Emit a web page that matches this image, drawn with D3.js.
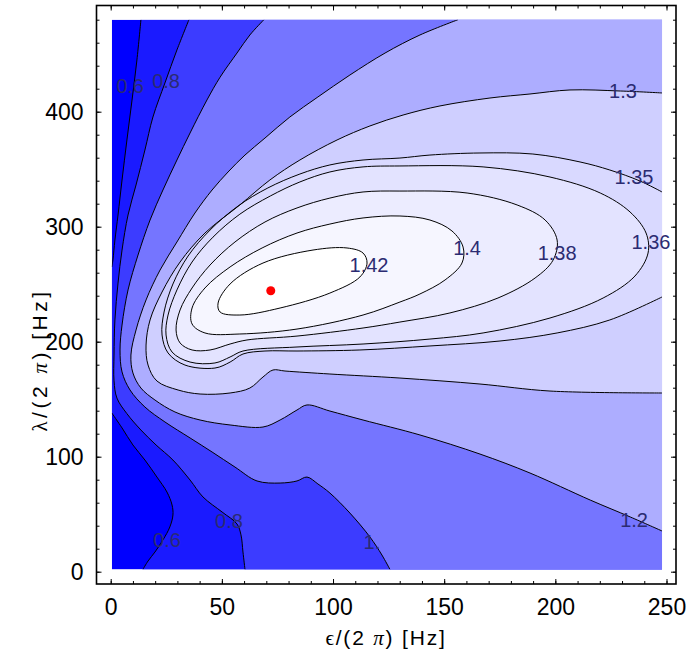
<!DOCTYPE html>
<html>
<head>
<meta charset="utf-8">
<script src="https://cdn.jsdelivr.net/npm/d3@7"></script>
<style>
  body { margin: 0; background: #fff; }
  svg { display: block; }
  text { font-family: "Liberation Sans", Arial, Helvetica, sans-serif; }
</style>
</head>
<body>
<svg id="chart" width="689" height="655"></svg>
<script>
// Contour levels of the objective over (epsilon, lambda), both in Hz (divided by 2 pi)
const levels = [0.6, 0.8, 1.0, 1.2, 1.3, 1.35, 1.36, 1.38, 1.4, 1.42];
// Shading of the band below the first level, then of each band above a level
const bandColors = ["#0000ff", "#1a1aff", "#3c3cff", "#7575ff", "#adadff", "#cfcfff",
                    "#d9d9ff", "#e3e3ff", "#ececff", "#f6f6ff", "#ffffff"];

// Sampled region
const epsRange = [0.5, 248];
const lamRange = [2, 480];

// Contour polylines, [epsilon, lambda]
const c06top = [[13.6,480],[11.8,445.0],[9.6,410.2],[7.3,375.4],[5.1,340.6],[3.3,310.2],[1.9,288.4],[1.0,271.0],[0.5,265.0]];
const c06bottom = [[0.5,138.0],[5.1,125.0],[10.0,110.2],[15.4,97.1],[20.8,82.3],[25.3,69.3],[27.6,58.0],[28.0,49.3],[26.6,38.9],[23.5,27.6],[19.9,17.1],[16.8,9.3],[14.5,2]];
const c08 = [[35.2,480],[29.8,453.7],[24.4,425.0],[19.0,395.4],[15.4,366.7],[11.4,336.3],[7.8,310.2],[5.1,279.7],[3.3,251.0],[1.9,218.9],[1.5,188.4],[1.5,166.0],[2.8,151.0],[7.3,137.4],[13.6,123.2],[20.4,110.2],[28.0,97.1],[35.7,79.7],[41.5,65.0],[50.1,51.9],[56.8,41.5],[58.6,32.0],[59.5,17.1],[60.4,2]];
const c10 = [[68.9,480],[62.6,466.7],[56.8,451.0],[49.2,430.0],[43.3,410.2],[35.7,381.5],[29.8,358.0],[23.5,331.9],[17.7,305.8],[12.3,275.4],[7.8,245.0],[5.1,214.5],[4.2,192.8],[5.1,173.7],[8.7,158.0],[15.4,143.2],[24.4,130.2],[35.7,116.3],[45.6,104.1],[55.9,91.0],[65.8,78.9],[76.2,77.1],[83.8,78.9],[88.3,82.3],[93.2,76.3],[98.6,68.4],[107.6,51.0],[116.6,30.2],[122.0,14.5],[125.6,2]];
const c12 = [[156.2,480],[139.1,466.7],[123.4,451.0],[107.6,431.9],[93.2,412.8],[80.6,395.4],[69.4,377.1],[60.4,362.3],[52.8,347.6],[45.6,331.9],[37.9,311.9],[29.8,286.7],[22.2,262.3],[15.9,236.3],[11.4,210.2],[9.1,188.4],[10.0,172.8],[13.6,159.7],[19.9,149.3],[28.9,138.9],[40.2,131.9],[53.7,127.6],[68.5,125.8],[76.2,131.9],[83.8,140.6],[88.3,145.0],[98.6,139.7],[113.5,131.9],[139.1,118.9],[166.1,102.3],[188.6,85.8],[215.7,62.3],[233.7,47.6],[248,35.4]];
const c13 = [[248,416.3],[229.2,418.0],[206.6,418.9],[188.6,415.4],[170.6,411.9],[148.1,405.0],[131.5,397.1],[116.6,387.6],[101.8,375.4],[85.1,358.0],[71.6,340.6],[58.1,318.9],[42.4,294.5],[31.2,269.3],[23.1,243.2],[17.7,218.9],[15.9,197.1],[16.8,179.7],[20.8,165.8],[30.3,158.0],[40.2,154.5],[53.7,155.4],[62.6,159.7],[68.5,169.3],[73.0,175.4],[78.4,174.5],[98.6,171.9],[130.1,168.4],[166.1,163.2],[197.6,157.1],[248,155.4]];
const c135 = [[248,330.2],[238.1,339.7],[224.5,349.3],[211.1,356.3],[189.9,363.2],[166.1,364.1],[143.6,362.3],[130.1,359.7],[113.5,358.0],[98.6,353.7],[85.1,345.8],[70.7,333.7],[57.3,318.0],[44.7,297.1],[34.8,274.5],[28.0,250.2],[24.0,225.8],[23.1,205.8],[25.8,190.2],[33.4,179.7],[46.9,177.1],[53.7,182.3],[59.5,189.3],[69.4,191.9],[83.8,191.9],[112.1,192.8],[143.6,196.3],[175.1,200.6],[200.8,207.6],[224.5,218.9],[248,238.9]];
const c136 = [[130.1,352.8],[167.5,352.0],[197.6,343.2],[220.2,329.3],[233.6,312.8],[240.8,294.5],[241.7,277.1],[235.8,257.1],[221.5,238.0],[197.6,220.6],[167.5,207.6],[143.6,202.3],[113.5,198.0],[83.8,195.4],[59.5,191.9],[53.7,186.7],[46.9,181.5],[35.7,182.3],[27.6,191.0],[24.9,205.8],[25.8,223.2],[29.8,245.0],[36.6,269.3],[46.0,290.9],[58.1,310.9],[71.8,326.7],[85.1,338.9],[98.6,347.6],[113.5,352.0]];
const c138 = [[130.1,331.0],[160.3,329.3],[182.8,318.9],[195.4,305.8],[200.8,288.4],[199.0,271.0],[190.9,255.4],[174.2,238.0],[152.6,225.0],[130.1,217.1],[113.5,211.9],[83.8,204.9],[61.3,201.5],[53.7,198.0],[44.7,192.8],[36.6,192.8],[31.2,198.9],[29.4,210.2],[31.2,227.6],[36.6,246.7],[44.7,266.7],[55.9,286.7],[69.4,304.1],[83.8,316.3],[98.6,324.9],[113.5,330.2]];
const c140 = [[130.1,309.3],[143.6,305.8],[153.5,296.3],[158.5,282.3],[158.0,268.4],[150.4,253.7],[139.1,241.5],[130.1,234.5],[113.5,223.2],[83.8,211.0],[58.1,206.7],[42.4,207.6],[36.6,215.4],[36.6,229.3],[42.4,246.7],[53.7,265.0],[68.1,281.5],[83.8,294.5],[98.6,302.3],[113.5,307.6]];
const c142 = [[48.3,233.6],[53.7,250.2],[68.5,268.4],[91.0,279.7],[106.3,281.5],[113.5,277.1],[115.3,268.4],[112.1,256.3],[98.6,242.3],[76.2,229.3],[58.1,223.2],[49.2,225.8]];

// Contour labels: text and anchor point [epsilon, lambda]
const labelText = ["0.6", "0.8", "1.3", "1.35", "1.36", "1.38", "1.4", "1.42", "1.2", "1.", "0.8", "0.6"];
const labelAt = [[8.7,422.3],[24.9,426.7],[230.4,418.0],[235.4,343.2],[243.0,286.7],[200.8,277.1],[160.3,281.5],[116.2,266.7],[235.4,45.0],[117.5,25.8],[53.2,44.1],[25.3,27.6]];

// Optimum
const optimum = [72.0, 244.3];

// Axis ticks
const epsTicks = [0, 50, 100, 150, 200, 250];
const lamTicks = [0, 100, 200, 300, 400];
const epsMinorStep = 10;
const lamMinorStep = 20;

const svg = d3.select("#chart");
const x = d3.scaleLinear().domain([0, 250]).range([110.7, 666.5]);
const y = d3.scaleLinear().domain([0, 400]).range([571.7, 111.7]);
const frame = { left: 96.5, right: 676, top: 5.5, bottom: 584 };

const px0 = x(epsRange[0]), px1 = x(epsRange[1]);
const py0 = y(lamRange[1]), py1 = y(lamRange[0]);

svg.append("defs").append("clipPath").attr("id", "plotClip")
  .append("rect").attr("x", px0).attr("y", py0)
  .attr("width", px1 - px0).attr("height", py1 - py0);

const plot = svg.append("g").attr("clip-path", "url(#plotClip)");

const open = d3.line().x(d => x(d[0])).y(d => y(d[1])).curve(d3.curveCatmullRom.alpha(0.5));
const closed = d3.line().x(d => x(d[0])).y(d => y(d[1])).curve(d3.curveCatmullRomClosed.alpha(0.5));
const to = d => `L${x(d[0])},${y(d[1])}`;
const cont = pts => open(pts).replace(/^M/, "L");

const BR = [epsRange[1], lamRange[0]];
const TR = [epsRange[1], lamRange[1]];

// Region where the value is at least each level (nested sets)
const superLevel = [
  open(c06top) + cont(c06bottom) + to(BR) + to(TR) + "Z",
  open(c08) + to(BR) + to(TR) + "Z",
  open(c10) + to(BR) + to(TR) + "Z",
  open(c12) + to(TR) + "Z",
  open(c13) + "Z",
  open(c135) + "Z",
  closed(c136),
  closed(c138),
  closed(c140),
  closed(c142)
];

plot.append("rect").attr("x", px0).attr("y", py0)
  .attr("width", px1 - px0).attr("height", py1 - py0)
  .attr("fill", bandColors[0]);

plot.selectAll("path.band").data(superLevel).join("path")
  .attr("class", "band").attr("d", d => d)
  .attr("fill", (d, i) => bandColors[i + 1]);

const lines = [open(c06top), open(c06bottom), open(c08), open(c10), open(c12), open(c13),
               open(c135), closed(c136), closed(c138), closed(c140), closed(c142)];
plot.selectAll("path.iso").data(lines).join("path")
  .attr("class", "iso").attr("d", d => d)
  .attr("fill", "none").attr("stroke", "#000").attr("stroke-width", 1);

plot.append("circle").attr("cx", x(optimum[0])).attr("cy", y(optimum[1]))
  .attr("r", 4.5).attr("fill", "#ff0000");

// Level labels sit on top of the lines and may run past the shaded area
svg.append("g").selectAll("text").data(labelText).join("text")
  .attr("x", (d, i) => x(labelAt[i][0]))
  .attr("y", (d, i) => y(labelAt[i][1]))
  .attr("dy", "0.35em")
  .attr("text-anchor", "middle")
  .attr("font-size", 20)
  .attr("fill", "#2b2b72")
  .text(d => d);

// Frame with inward ticks
const epsMinor = d3.range(0, 250 + 1e-9, epsMinorStep);
const lamMinor = d3.range(0, 480 + 1e-9, lamMinorStep);

function styleAxis(g) {
  g.select(".domain").remove();
  g.selectAll("line").attr("stroke", "#000").attr("stroke-width", 1);
  g.selectAll("text").attr("font-size", 23).attr("fill", "#000")
    .attr("font-family", '"Liberation Sans", Arial, sans-serif');
}

svg.append("g").attr("transform", `translate(0,${frame.bottom})`)
  .call(d3.axisBottom(x).tickValues(epsMinor).tickSize(-3).tickFormat("")).call(styleAxis);
svg.append("g").attr("transform", `translate(0,${frame.bottom})`)
  .call(d3.axisBottom(x).tickValues(epsTicks).tickSize(-5).tickPadding(15).tickFormat(d3.format("d"))).call(styleAxis);
svg.append("g").attr("transform", `translate(0,${frame.top})`)
  .call(d3.axisTop(x).tickValues(epsMinor).tickSize(-3).tickFormat("")).call(styleAxis);
svg.append("g").attr("transform", `translate(0,${frame.top})`)
  .call(d3.axisTop(x).tickValues(epsTicks).tickSize(-5).tickFormat("")).call(styleAxis);

svg.append("g").attr("transform", `translate(${frame.left},0)`)
  .call(d3.axisLeft(y).tickValues(lamMinor).tickSize(-3).tickFormat("")).call(styleAxis);
svg.append("g").attr("transform", `translate(${frame.left},0)`)
  .call(d3.axisLeft(y).tickValues(lamTicks).tickSize(-5).tickPadding(13).tickFormat(d3.format("d"))).call(styleAxis);
svg.append("g").attr("transform", `translate(${frame.right},0)`)
  .call(d3.axisRight(y).tickValues(lamMinor).tickSize(-3).tickFormat("")).call(styleAxis);
svg.append("g").attr("transform", `translate(${frame.right},0)`)
  .call(d3.axisRight(y).tickValues(lamTicks).tickSize(-5).tickFormat("")).call(styleAxis);

svg.append("rect").attr("x", frame.left).attr("y", frame.top)
  .attr("width", frame.right - frame.left).attr("height", frame.bottom - frame.top)
  .attr("fill", "none").attr("stroke", "#000").attr("stroke-width", 1.6);

// Axis titles
const serif = '"Liberation Serif", "DejaVu Serif", serif';
function title(sel, sym) {
  sel.append("tspan").attr("font-family", serif).text(sym);
  sel.append("tspan").text("/(2 ");
  sel.append("tspan").attr("font-family", serif).attr("font-style", "italic").text("\u03C0");
  sel.append("tspan").text(") [Hz]");
}
svg.append("text").attr("x", 386).attr("y", 645)
  .attr("text-anchor", "middle").attr("font-size", 21).attr("letter-spacing", 1.8)
  .attr("fill", "#000").call(title, "\u03F5");

svg.append("text").attr("transform", "translate(47,360) rotate(-90)")
  .attr("text-anchor", "middle").attr("font-size", 21).attr("letter-spacing", 3.5)
  .attr("fill", "#000").call(title, "\u03BB");
</script>
</body>
</html>
